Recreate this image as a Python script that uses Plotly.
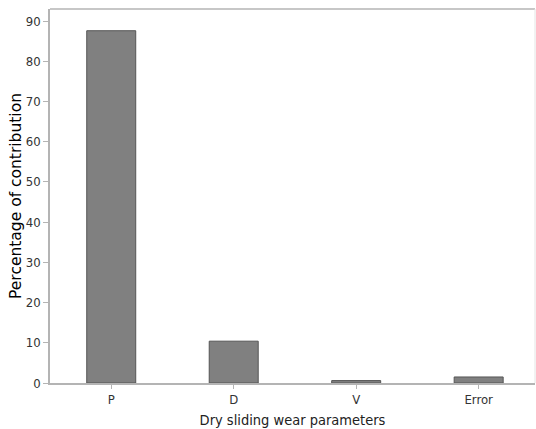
import plotly.graph_objects as go

categories = ["P", "D", "V", "Error"]
contribution = [87.6, 10.4, 0.6, 1.5]
y_ticks = [0, 10, 20, 30, 40, 50, 60, 70, 80, 90]

fig = go.Figure(go.Bar(
    x=categories, y=contribution, width=0.4,
    marker=dict(color="#808080", line=dict(color="#555555", width=1)),
))

axis_color = "#b4b4b4"
narrow = "DejaVu Sans Condensed, Open Sans, sans-serif"
tick_font = dict(family=narrow, size=13, color="#333333")
fig.update_layout(
    width=536, height=429,
    margin=dict(l=50, r=1, t=9, b=46, autoexpand=False),
    plot_bgcolor="white", paper_bgcolor="white",
    showlegend=False,
    xaxis=dict(
        range=[-0.5, 3.46], showgrid=False, zeroline=False, automargin=False,
        showline=True, linecolor=axis_color, linewidth=1.5, mirror=False,
        ticks="outside", ticklen=4, tickcolor=axis_color,
        tickfont=tick_font,
        title=dict(text="Dry sliding wear parameters",
                   font=dict(family=narrow, size=14.5, color="#222222"), standoff=9),
    ),
    yaxis=dict(
        range=[0, 93], tickvals=y_ticks, showgrid=False, zeroline=False, automargin=False,
        showline=True, linecolor=axis_color, linewidth=1.5,
        ticks="outside", ticklen=5, tickcolor=axis_color,
        tickfont=tick_font,
        title=dict(text="Percentage of contribution",
                   font=dict(family="DejaVu Sans, sans-serif", size=15.5, color="#000000"), standoff=0),
    ),
    shapes=[
        dict(type="line", xref="paper", yref="paper", x0=0, x1=1, y0=1, y1=1,
             line=dict(color=axis_color, width=1.5)),
        dict(type="line", xref="paper", yref="paper", x0=1, x1=1, y0=0, y1=1,
             line=dict(color="#e4e4e4", width=1)),
    ],
)

fig.write_html(
    "out.html",
    config={"displayModeBar": False},
    post_script="document.body.style.margin='0';document.documentElement.style.overflow='hidden';document.body.style.overflow='hidden';",
)
